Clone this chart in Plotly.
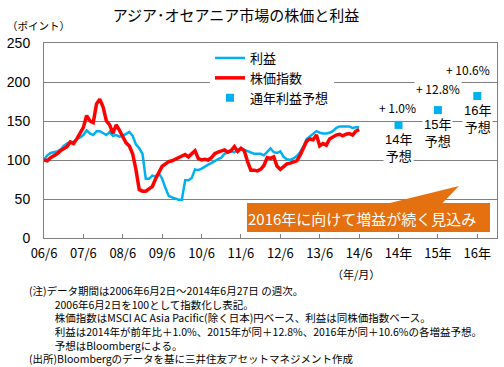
import plotly.graph_objects as go

# ---------------- data (monthly readings, Jun 2006 = 100) ----------------
stock_index = [100, 99, 103, 105, 108, 112, 115, 117, 123, 121, 127, 134, 142, 157, 150, 148,
               172, 178, 168, 150, 145, 134, 145, 138, 130, 122, 118, 108, 88, 62, 60, 60,
               63, 66, 76, 84, 92, 95, 98, 99, 101, 102, 104, 107, 104, 108, 112, 102,
               100, 101, 100, 103, 108, 110, 111, 113, 110, 112, 117, 111, 115, 112, 98, 87,
               87, 86, 88, 93, 103, 102, 104, 92, 88, 92, 95, 96, 98, 99, 106, 115,
               124, 127, 126, 132, 118, 121, 119, 127, 130, 132, 133, 131, 133, 134, 132, 137, 139]
earnings = [100, 106, 109, 110, 111, 113, 118, 121, 123, 123, 127, 129, 132, 138, 134, 132,
            137, 137, 134, 132, 136, 131, 132, 130, 131, 134, 136, 131, 120, 115, 108, 76,
            76, 80, 79, 83, 76, 64, 54, 52, 50, 49, 49, 74, 74, 77, 88, 87,
            89, 92, 94, 96, 99, 101, 103, 108, 110, 111, 110, 113, 115, 113, 111, 109,
            108, 108, 108, 106, 110, 115, 110, 109, 111, 104, 101, 100, 102, 105, 110, 117,
            127, 130, 134, 137, 135, 134, 134, 135, 137, 141, 143, 143, 143, 143, 141, 142, 142]
forecast_x = [9, 10, 11]
forecast_values = [145, 164, 182]
forecast_labels = ["14年", "15年", "16年"]
growth_labels = ["+ 1.0%", "+ 12.8%", "+ 10.6%"]
tick_vals = list(range(12))
tick_text = ["06/6", "07/6", "08/6", "09/6", "10/6", "11/6", "12/6", "13/6", "14/6",
             "14年", "15年", "16年"]

FONT = "Noto Sans CJK JP"
FONT2 = "Liberation Sans, Noto Sans CJK JP"
W, H = 504, 367
ML, MR, MT, MB = 44, 7, 43, 129
PW, PH = W - ML - MR, H - MT - MB


def px(x):
    return (x - ML) / PW


def py(y):
    return (H - MB - y) / PH


months = [i / 12 for i in range(len(stock_index))]

fig = go.Figure()
fig.add_trace(go.Scatter(x=months, y=earnings, mode="lines", name="利益",
                         line=dict(color="#00B0F0", width=2.5)))
fig.add_trace(go.Scatter(x=months, y=stock_index, mode="lines", name="株価指数",
                         line=dict(color="#FF0000", width=3.5)))
fig.add_trace(go.Scatter(x=forecast_x, y=forecast_values, mode="markers", name="通年利益予想",
                         marker=dict(color="#00B0F0", size=8, symbol="square")))

ann = []
for xv, yv, lab in zip(forecast_x, forecast_values, forecast_labels):
    ann.append(dict(x=xv, y=yv, xref="x", yref="y", text=lab + "<br>予想", showarrow=False,
                    xanchor="center", yanchor="middle",
                    yshift=-23, bgcolor="white", font=dict(size=13, color="black", family=FONT2)))
for (gx, gy), lab in zip([(397, 107), (438, 88), (468, 69)], growth_labels):
    ann.append(dict(x=px(gx), y=py(gy), xref="paper", yref="paper", text=lab, showarrow=False,
                    xanchor="center", yanchor="middle",
                    bgcolor="white", font=dict(size=12, color="black", family=FONT)))

ann.append(dict(x=px(6), y=py(26), xref="paper", yref="paper", text="（ポイント）", showarrow=False,
                xanchor="left", yanchor="middle", borderpad=0,
                font=dict(size=10.5, color="black", family=FONT2)))
ann.append(dict(x=px(356), y=py(274), xref="paper", yref="paper", text="（年/月）", showarrow=False,
                xanchor="center", yanchor="middle", font=dict(size=11, color="black", family=FONT)))
ann.append(dict(x=px(362), y=py(218), xref="paper", yref="paper",
                text="2016年に向けて増益が続く見込み", showarrow=False,
                xanchor="center", yanchor="middle",
                font=dict(size=15, color="white", family=FONT)))

IND = "\u3000\u3000\u00a0\u00a0"
notes = [
    "(注)データ期間は2006年6月2日～2014年6月27日 の週次。",
    IND + "2006年6月2日を100として指数化し表記。",
    IND + "株価指数はMSCI AC Asia Pacific(除く日本)円ベース、利益は同株価指数ベース。",
    IND + "利益は2014年が前年比＋1.0%、2015年が同＋12.8%、2016年が同＋10.6%の各増益予想。",
    IND + "予想はBloombergによる。",
    "(出所)Bloombergのデータを基に三井住友アセットマネジメント作成",
]
ann.append(dict(x=px(27), y=py(324.5), xref="paper", yref="paper", text="<br>".join(notes),
                showarrow=False, xanchor="left", yanchor="middle", align="left",
                font=dict(size=10.5, color="black", family=FONT)))

shapes = [
    dict(type="rect", xref="paper", yref="paper", x0=px(247), x1=px(490), y0=py(232), y1=py(203),
         fillcolor="#E4700F", line=dict(width=0), layer="above"),
    dict(type="path", xref="paper", yref="paper",
         path=f"M{px(388)},{py(203.5)} L{px(459)},{py(186)} L{px(442)},{py(203.5)} Z",
         fillcolor="#E4700F", line=dict(width=0), layer="above"),
]

fig.update_layout(
    width=W, height=H,
    margin=dict(l=ML, r=MR, t=MT, b=MB, autoexpand=False),
    paper_bgcolor="white", plot_bgcolor="white",
    font=dict(family=FONT, color="black"),
    title=dict(text="アジア･オセアニア市場の株価と利益", x=236 / W, xanchor="center",
               y=1 - 16 / H, yanchor="middle", yref="container",
               font=dict(size=15, color="black", family=FONT)),
    showlegend=True,
    legend=dict(x=px(210), y=py(43), xanchor="left", yanchor="top", bgcolor="white",
                font=dict(size=13, color="black", family=FONT), tracegroupgap=0,
                itemwidth=30),
    annotations=ann,
    shapes=shapes,
)
fig.update_xaxes(range=[0, 11.5], tickvals=tick_vals, ticktext=tick_text, showgrid=False,
                 showline=True, linecolor="#808080", linewidth=1, mirror=True,
                 ticks="inside", ticklen=4, tickcolor="#808080", zeroline=False,
                 tickfont=dict(size=13, color="black", family=FONT), ticklabelstandoff=3)
fig.update_yaxes(range=[0, 250], tickvals=[0, 50, 100, 150, 200, 250], showgrid=True,
                 gridcolor="#808080", gridwidth=1, showline=True, linecolor="#808080",
                 linewidth=1, mirror=True, ticks="", zeroline=False,
                 tickfont=dict(size=14, color="black", family=FONT2), ticklabelstandoff=10)

fig.write_html("out.html", post_script="document.body.style.margin='0';",
               config={"responsive": False, "displayModeBar": False})
